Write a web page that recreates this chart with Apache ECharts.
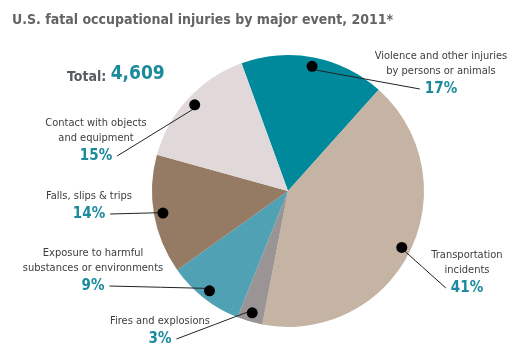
<!DOCTYPE html>
<html>
<head>
<meta charset="utf-8">
<script src="https://cdn.jsdelivr.net/npm/echarts@6/dist/echarts.min.js"></script>
<style>html,body{margin:0;padding:0;background:#fff}#c{width:518px;height:359px}</style>
</head>
<body>
<div id="c"></div>
<script>
// ---- data ----
const categories = [
  'Violence and other injuries\nby persons or animals',
  'Transportation\nincidents',
  'Fires and explosions',
  'Exposure to harmful\nsubstances or environments',
  'Falls, slips & trips',
  'Contact with objects\nand equipment'
];
const shares = [17, 41, 3, 9, 14, 15];
const pctLabels = ['17%', '41%', '3%', '9%', '14%', '15%'];
const titleText = 'U.S. fatal occupational injuries by major event, 2011*';
const totalText = '4,609';

// ---- styles / layout ----
const sliceColors = ['#00899b', '#c5b3a3', '#9b9494', '#4fa1b3', '#957b64', '#e1d9d9'];
const FONT = "'Liberation Sans Narrow', 'DejaVu Sans Condensed', Roboto, sans-serif";
const TEAL = '#1a8a9c';
const CX = 288, CY = 191, R = 136;
const NAME_LH = 15, PCT_LH = 20, PCT_FS = 15;
const labelAnchor = [[441, 49], [467, 248], [160, 314], [93, 246], [89, 189], [96, 116]];

const ctx = document.createElement('canvas').getContext('2d');
function measurePct(t) { ctx.font = 'bold ' + PCT_FS + 'px ' + FONT; return ctx.measureText(t).width; }

const pieData = categories.map((c, i) => ({ name: c, value: shares[i] }));

const chart = echarts.init(document.getElementById('c'), null, { renderer: 'canvas' });
chart.setOption({
  animation: false,
  title: [
    { text: titleText, left: 7, top: 8,
      textStyle: { fontFamily: FONT, fontWeight: 'bold', fontSize: 14, color: '#636466' } },
    { text: '{a|Total: }{b|' + totalText + '}', left: 62, top: 60,
      textStyle: { rich: {
        a: { fontFamily: FONT, fontWeight: 'bold', fontSize: 14, color: '#565b5e', verticalAlign: 'bottom' },
        b: { fontFamily: FONT, fontWeight: 'bold', fontSize: 19, color: TEAL, verticalAlign: 'bottom' }
      } } }
  ],
  series: [
    {
      type: 'pie', z: 1, center: [CX, CY], radius: R, startAngle: 110, clockwise: true,
      silent: true, label: { show: false }, labelLine: { show: false },
      data: pieData.map((d, i) => ({ name: d.name, value: d.value, itemStyle: { color: sliceColors[i] } }))
    },
    {
      type: 'pie', z: 3, center: [CX, CY], radius: 124, startAngle: 110, clockwise: true,
      silent: true, itemStyle: { color: 'rgba(0,0,0,0)' },
      label: {
        show: true, position: 'outside',
        formatter: p => p.name.split('\n').map(l => '{n|' + l + '}').join('\n') + '\n{p|' + pctLabels[p.dataIndex] + '}',
        rich: {
          n: { fontFamily: FONT, fontSize: 11, color: '#3d3d3d', lineHeight: NAME_LH, align: 'center' },
          p: { fontFamily: FONT, fontSize: PCT_FS, fontWeight: 'bold', color: TEAL, lineHeight: PCT_LH, align: 'center' }
        }
      },
      labelLine: { show: true, showAbove: true, length: 10, length2: 10, lineStyle: { color: '#222', width: 1 } },
      labelLayout: function (p) {
        const i = p.dataIndex;
        const a = labelAnchor[i];
        const nLines = categories[i].split('\n').length;
        const pctY = a[1] + nLines * NAME_LH + PCT_LH / 2;
        const pw = measurePct(pctLabels[i]);
        const right = a[0] > CX;
        const endX = right ? a[0] - pw / 2 - 5 : a[0] + pw / 2 + 5;
        const p0 = p.labelLinePoints ? p.labelLinePoints[0] : [a[0], pctY];
        return {
          x: a[0], y: a[1], align: 'center', verticalAlign: 'top',
          labelLinePoints: [p0, [(p0[0] + endX) / 2, (p0[1] + pctY) / 2], [endX, pctY]]
        };
      },
      data: pieData
    },
    {
      type: 'pie', z: 4, center: [CX, CY], radius: [112, 136], startAngle: 110, clockwise: true,
      silent: true, itemStyle: { color: 'rgba(0,0,0,0)' },
      label: {
        show: true, position: 'inside', formatter: '{d| }',
        rich: { d: { width: 11, height: 11, backgroundColor: '#000', borderRadius: 5.5, fontSize: 1, lineHeight: 11 } }
      },
      labelLine: { show: false },
      data: pieData
    }
  ]
});
</script>
</body>
</html>
